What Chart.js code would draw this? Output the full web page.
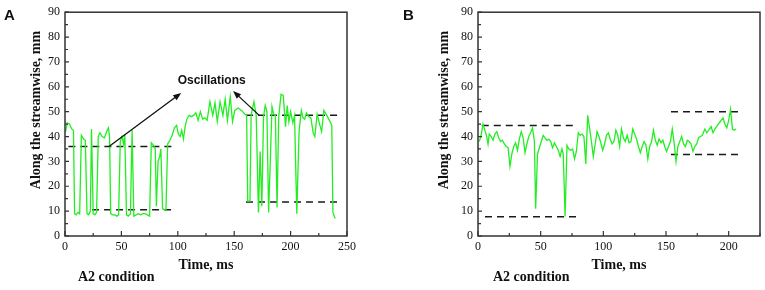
<!DOCTYPE html>
<html>
<head>
<meta charset="utf-8">
<script src="https://cdn.jsdelivr.net/npm/chart.js@4"></script>
<style>
  html, body { margin: 0; padding: 0; background: #fff; }
  #wrap { position: relative; width: 765px; height: 290px; }
  .panel { position: absolute; top: 0; height: 290px; }
  #panelA { left: 0; width: 382px; }
  #panelB { left: 382px; width: 383px; }
</style>
</head>
<body>
<div id="wrap">
  <div class="panel" id="panelA"><canvas id="chartA"></canvas></div>
  <div class="panel" id="panelB"><canvas id="chartB"></canvas></div>
</div>
<script>
// panel A: time (ms) / position along the streamwise (mm)
const timeA = [
  0.5, 2, 4, 6, 7.5, 8.5, 10, 11.5, 13, 14.5,
  16.5, 18, 19.5, 21, 22.5, 23.5, 25, 26.5, 28, 29.5,
  31, 33, 35, 37, 38.5, 39.5, 40.5, 42, 44, 46,
  47.5, 49, 50.5, 52, 53, 54.5, 56, 58, 59.5, 61,
  63, 65, 67, 69, 71, 73, 75, 76.5, 78.5, 80,
  81, 82.5, 84, 85, 86.5, 88, 89.5, 91, 93, 95,
  97, 99, 100.5, 102, 103.5, 105, 106.5, 108, 110, 112,
  114, 116, 118, 120, 122, 124, 126, 128.5, 131, 133,
  135, 137.5, 140, 142, 144, 146.5, 148.5, 150.5, 153.5, 156.5,
  159.5, 161, 162, 164, 165, 167.5, 169.5, 171.5, 173, 174.5,
  176, 177.5, 179, 180.5, 182, 183.5, 185, 186.5, 188, 189.5,
  191.5, 193.5, 195.5, 197, 198.5, 200, 202, 203.5, 205.5, 207.5,
  209.5, 211, 212.5, 214, 216, 218, 220, 221.5, 223.5, 226,
  227.5, 229.5, 232, 235, 236.5, 237.5, 239.5
];
const depthA = [
  42, 45.5, 45, 43, 42.5, 9, 8.5, 9.5, 9, 40.5,
  39, 38.5, 9, 8.5, 10, 43, 9, 8.5, 9.5, 40,
  41.5, 40, 39.5, 42, 43.5, 40, 9, 8.5, 8.5, 8,
  8.5, 38, 40, 37, 41, 8.5, 8, 9, 42.5, 8,
  8.5, 9, 8.5, 9, 9, 8.5, 8, 37.5, 36.5, 35,
  12, 30, 32, 35, 11, 10.5, 10.5, 37, 38.5, 40.5,
  43.5, 44.5, 41, 40, 42.5, 39, 44, 47, 48.5, 48,
  48.5, 49.5, 46.5, 50, 47, 47.5, 46.5, 54, 48.5, 53.5,
  46, 54, 48.5, 55, 46.5, 56, 46, 50.5, 51.5, 50.5,
  49, 48.5, 14, 14, 48.5, 54, 48.5, 9.5, 34, 12,
  48, 52.5, 50, 9.5, 30, 52, 49, 48.5, 11.5, 48,
  57, 56.5, 44, 52.5, 46, 50, 45.5, 48.5, 9, 42,
  50.5, 47.5, 47, 49.5, 48, 47.5, 41.5, 40, 49, 44.5,
  42, 50.5, 48.5, 46, 44.5, 9.5, 7
];
// dashed reference levels, panel A
const levelA = [36, 10.6, 48.6, 13.7];
const levelStartA = [3, 24, 160.5, 160.5];
const levelEndA = [96, 96, 244, 244];

// panel B
const timeB = [
  1, 2.5, 4, 5.5, 7, 8, 9, 10.5, 12, 13.5,
  15, 16.5, 18, 19.5, 21, 22.5, 24, 25.5, 27, 28.5,
  30, 31.5, 33, 34.5, 36, 37.5, 39, 40.5, 42, 43.5,
  45, 46, 47.5, 49, 50.5, 52, 53.5, 55, 56.5, 58,
  59.5, 61, 62.5, 64, 65.5, 67, 68, 69.5, 71, 72.5,
  74, 75.5, 77, 78.5, 80, 81.5, 83, 84.5, 86, 87.5,
  89, 90.5, 92, 93.5, 95, 96.5, 98, 99.5, 101, 102.5,
  104, 105.5, 107, 108.5, 110, 111.5, 113, 114.5, 116, 117.5,
  119, 120.5, 122, 123.5, 125, 126.5, 128, 129.5, 131, 132.5,
  134, 135.5, 137, 138.5, 140, 141.5, 143, 144.5, 146, 147.5,
  149, 150.5, 152, 153.5, 155, 156.5, 158, 159.5, 161, 162.5,
  164, 165.5, 167, 168.5, 170, 171.5, 173, 174.5, 176, 177.5,
  179, 181, 182.5, 184, 186, 187.5, 189, 191, 192.5, 194,
  195.5, 197, 198.5, 200, 201.5, 203, 204.5, 206
];
const depthB = [
  38, 40.5, 45, 42.5, 40, 37, 41, 40, 38.5, 41,
  42, 39.5, 38, 38.5, 37, 36, 35.5, 28, 33, 36,
  37.5, 34.5, 39, 42, 39.5, 33.5, 37, 40, 41.5, 43.5,
  38, 11, 33, 35.5, 38, 40.5, 39.5, 38.5, 39, 38,
  35.5, 37.5, 36, 34.5, 32, 35, 33, 7.8, 36.5, 35,
  34.5, 35, 31, 34, 41.5, 40.5, 41, 40, 29, 48.5,
  43.5, 38, 32, 37, 42, 40, 37.5, 34.5, 37, 40.5,
  41.5, 39, 37, 38, 42.5, 40.5, 36, 43, 39.5, 38,
  40.5, 37.5, 38, 43, 41, 39, 36, 33.5, 36, 38,
  36.5, 31, 36, 38, 42.5, 38.5, 36.5, 39, 37.5, 38.5,
  36, 34, 36, 38, 43, 37.5, 30, 36, 38, 40,
  37, 36, 38.5, 38, 37, 34, 36, 37, 39.5, 40,
  40.5, 43, 41.5, 42.5, 44, 41.5, 43, 44.5, 45.5, 46.5,
  47.5, 45, 43.5, 46.5, 51, 43, 42.5, 43
];
const levelB = [44.4, 7.7, 50, 32.8];
const levelStartB = [3, 5.6, 154, 154];
const levelEndB = [79, 79, 210.6, 210.6];

// arrows in panel A (data coords: tail -> head)
const arrowsA = [
  { from: [39, 36], to: [103, 57.5] },
  { from: [172, 48.6], to: [149, 58.3] }
];

const SERIF = '"Liberation Serif", "Times New Roman", serif';
const SANS = '"Liberation Sans", Arial, sans-serif';

// frame, inward ticks, titles and annotations
const decor = {
  id: 'decor',
  afterDatasetsDraw(chart, args, o) {
    const { ctx, chartArea: a, scales: { x, y } } = chart;
    ctx.save();
    ctx.strokeStyle = '#333';
    ctx.lineWidth = 1.5;
    ctx.strokeRect(a.left, a.top, a.right - a.left, a.bottom - a.top);

    ctx.lineWidth = 1.2;
    ctx.beginPath();
    x.ticks.forEach(t => {
      const px = x.getPixelForValue(t.value);
      const len = t.value % 50 === 0 ? 5 : 3;
      ctx.moveTo(px, a.bottom);
      ctx.lineTo(px, a.bottom - len);
    });
    y.ticks.forEach(t => {
      const py = y.getPixelForValue(t.value);
      const len = t.value % 10 === 0 ? 4 : 3;
      ctx.moveTo(a.left, py);
      ctx.lineTo(a.left + len, py);
    });
    ctx.stroke();

    ctx.fillStyle = '#111';
    // panel letter
    ctx.font = 'bold 15px ' + SANS;
    ctx.textAlign = 'left';
    ctx.textBaseline = 'alphabetic';
    ctx.fillText(o.letter, o.letterX, 20);

    // axis titles
    ctx.font = 'bold 14px ' + SERIF;
    ctx.textAlign = 'center';
    ctx.fillText('Time, ms', (a.left + a.right) / 2, 269);
    ctx.textAlign = 'left';
    ctx.fillText('A2 condition', o.captionX, 281);

    ctx.save();
    ctx.translate(o.yTitleX, 110);
    ctx.rotate(-Math.PI / 2);
    ctx.textAlign = 'center';
    ctx.textBaseline = 'middle';
    ctx.fillText('Along the streamwise, mm', 0, 0);
    ctx.restore();

    // arrows + label
    (o.arrows || []).forEach(ar => {
      const x0 = x.getPixelForValue(ar.from[0]), y0 = y.getPixelForValue(ar.from[1]);
      const x1 = x.getPixelForValue(ar.to[0]), y1 = y.getPixelForValue(ar.to[1]);
      const ang = Math.atan2(y1 - y0, x1 - x0);
      const hl = 8, hw = 3.2;
      ctx.strokeStyle = '#111';
      ctx.lineWidth = 1.3;
      ctx.beginPath();
      ctx.moveTo(x0, y0);
      ctx.lineTo(x1 - Math.cos(ang) * hl * 0.8, y1 - Math.sin(ang) * hl * 0.8);
      ctx.stroke();
      ctx.beginPath();
      ctx.moveTo(x1, y1);
      ctx.lineTo(x1 - Math.cos(ang) * hl + Math.sin(ang) * hw, y1 - Math.sin(ang) * hl - Math.cos(ang) * hw);
      ctx.lineTo(x1 - Math.cos(ang) * hl - Math.sin(ang) * hw, y1 - Math.sin(ang) * hl + Math.cos(ang) * hw);
      ctx.closePath();
      ctx.fill();
    });
    if (o.note) {
      ctx.font = 'bold 12px ' + SANS;
      ctx.textAlign = 'center';
      ctx.textBaseline = 'middle';
      ctx.fillText(o.note.text, x.getPixelForValue(o.note.at[0]), y.getPixelForValue(o.note.at[1]));
    }
    ctx.restore();
  }
};

function levelSets(levels, starts, ends) {
  return levels.map((v, i) => ({
    data: [{ x: starts[i], y: v }, { x: ends[i], y: v }],
    borderColor: '#1a1a1a',
    borderWidth: 1.5,
    borderDash: [7, 5],
    pointRadius: 0
  }));
}

function makeChart(canvas, cfg) {
  const series = cfg.time.map((t, i) => ({ x: t, y: cfg.depth[i] }));
  return new Chart(canvas, {
    type: 'line',
    data: {
      datasets: [{
        data: series,
        borderColor: '#22ee22',
        borderWidth: 1.3,
        pointRadius: 0,
        tension: 0
      }].concat(levelSets(cfg.levels, cfg.starts, cfg.ends))
    },
    options: {
      responsive: true,
      maintainAspectRatio: false,
      animation: false,
      events: [],
      layout: { padding: { left: 0, top: 9, right: cfg.padRight, bottom: 0 } },
      plugins: {
        legend: { display: false },
        tooltip: { enabled: false },
        decor: cfg.decor
      },
      scales: {
        x: {
          type: 'linear',
          min: 0,
          max: cfg.xMax,
          grid: { display: false, drawTicks: false },
          border: { display: false },
          afterFit: s => { s.height = 54; },
          ticks: {
            stepSize: 25,
            autoSkip: false,
            maxRotation: 0,
            padding: 4,
            color: '#111',
            font: { family: SERIF, size: 12 },
            callback: v => (v % 50 === 0 ? v : '')
          }
        },
        y: {
          min: 0,
          max: 90,
          grid: { display: false, drawTicks: false },
          border: { display: false },
          afterFit: s => { s.width = cfg.plotLeft; },
          ticks: {
            stepSize: 5,
            autoSkip: false,
            padding: 5,
            color: '#111',
            font: { family: SERIF, size: 12 },
            callback: v => (v % 10 === 0 ? v : '')
          }
        }
      }
    },
    plugins: [decor]
  });
}

makeChart(document.getElementById('chartA'), {
  time: timeA, depth: depthA,
  levels: levelA, starts: levelStartA, ends: levelEndA,
  xMax: 250, plotLeft: 65, padRight: 35,
  decor: {
    letter: 'A', letterX: 4, captionX: 78, yTitleX: 36,
    arrows: arrowsA,
    note: { text: 'Oscillations', at: [130, 62.6] }
  }
});

makeChart(document.getElementById('chartB'), {
  time: timeB, depth: depthB,
  levels: levelB, starts: levelStartB, ends: levelEndB,
  xMax: 225, plotLeft: 96, padRight: 5,
  decor: { letter: 'B', letterX: 21, captionX: 111, yTitleX: 62 }
});
</script>
</body>
</html>
